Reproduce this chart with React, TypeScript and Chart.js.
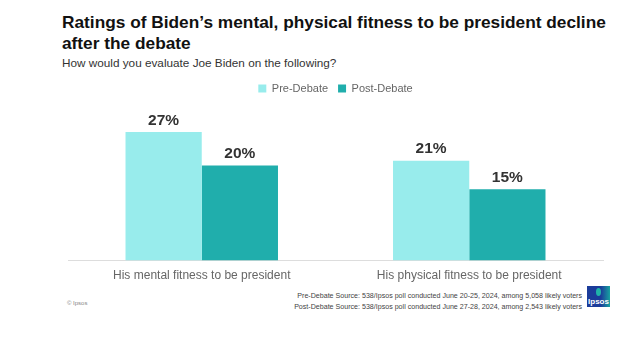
import React, { useEffect, useRef } from "react";
import { Chart, registerables } from "chart.js";

Chart.register(...registerables);

const categories = ["His mental fitness to be president", "His physical fitness to be president"];
const seriesNames = ["Pre-Debate", "Post-Debate"];
const preDebate = [27, 21];
const postDebate = [20, 15];
const seriesColors = ["#98ECEC", "#20AEAC"];
const yMax = 32.9;

const FONT = "'Liberation Sans', Arial, sans-serif";

const valueLabels = {
  id: "valueLabels",
  afterDatasetsDraw(chart: any) {
    const ctx = chart.ctx;
    ctx.save();
    ctx.font = `bold 15.5px ${FONT}`;
    ctx.fillStyle = "#333333";
    ctx.textAlign = "center";
    ctx.textBaseline = "bottom";
    chart.data.datasets.forEach((ds: any, i: number) => {
      const meta = chart.getDatasetMeta(i);
      meta.data.forEach((el: any, j: number) => {
        ctx.fillText(`${ds.data[j]}%`, el.x, el.y - 4);
      });
    });
    ctx.restore();
  },
};

export default function App() {
  const ref = useRef<HTMLCanvasElement>(null);
  useEffect(() => {
    if (!ref.current) return;
    const chart = new Chart(ref.current, {
      type: "bar",
      data: {
        labels: categories,
        datasets: [
          { label: seriesNames[0], data: preDebate, backgroundColor: seriesColors[0] },
          { label: seriesNames[1], data: postDebate, backgroundColor: seriesColors[1] },
        ],
      },
      options: {
        responsive: false,
        animation: false,
        layout: { padding: { left: 68, right: 40, top: 0, bottom: 0 } },
        datasets: { bar: { categoryPercentage: 0.57, barPercentage: 1.0 } },
        plugins: {
          legend: {
            position: "top",
            labels: {
              boxWidth: 8,
              boxHeight: 8,
              color: "#666666",
              font: { family: FONT, size: 11 },
              padding: 10,
            },
          },
          tooltip: { enabled: false },
        },
        scales: {
          x: {
            grid: { display: false },
            border: { color: "#DDDDDD" },
            ticks: { color: "#666666", font: { family: FONT, size: 12 }, padding: 0 },
          },
          y: { display: false, min: 0, max: yMax },
        },
      },
      plugins: [valueLabels],
    });
    return () => chart.destroy();
  }, []);

  return (
    <div style={{ position: "fixed", left: 0, top: 0, width: 643, height: 353, background: "#fff", overflow: "hidden" }}>
      <div style={{ position: "absolute", left: 62, top: 12, fontFamily: FONT, fontWeight: 700, fontSize: 17.3, lineHeight: "21px", color: "#111" }}>
        Ratings of Biden’s mental, physical fitness to be president decline
        <br />
        after the debate
      </div>
      <div style={{ position: "absolute", left: 62, top: 56, fontFamily: FONT, fontSize: 11.75, color: "#333" }}>
        How would you evaluate Joe Biden on the following?
      </div>
      <canvas ref={ref} width={643} height={210} style={{ position: "absolute", left: 0, top: 73 }} />
      <div style={{ position: "absolute", right: 61, top: 291, fontFamily: FONT, fontSize: 7.1, lineHeight: "11px", color: "#444", textAlign: "right" }}>
        Pre-Debate Source: 538/Ipsos poll conducted June 20-25, 2024, among 5,058 likely voters
        <br />
        Post-Debate Source: 538/Ipsos poll conducted June 27-28, 2024, among 2,543 likely voters
      </div>
      <div style={{ position: "absolute", left: 67, top: 300, fontFamily: FONT, fontSize: 6, color: "#888" }}>© Ipsos</div>
      <div style={{ position: "absolute", left: 587, top: 286, width: 23, height: 21, background: "linear-gradient(90deg, #1B3C9A 0%, #1B3C9A 60%, #17A3A0 100%)", overflow: "hidden" }}>
        <div style={{ position: "absolute", left: 9, top: 2, width: 5, height: 8, borderRadius: "50%", background: "#20B3A8" }} />
        <div style={{ position: "absolute", left: 0, right: 0, bottom: 1, textAlign: "center", fontFamily: FONT, fontWeight: 700, fontSize: 8, color: "#fff" }}>Ipsos</div>
      </div>
    </div>
  );
}
